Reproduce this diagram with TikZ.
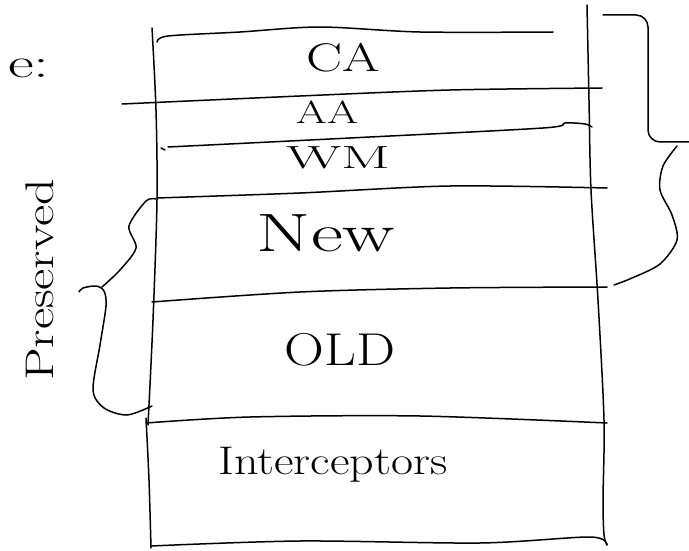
\documentclass[tikz,border=0pt]{standalone}
\usepackage{graphicx}
\tikzset{
  ink/.style={line width=1.5pt, line cap=round, line join=round},
  lbl/.style={inner sep=0pt, anchor=center}
}
\newcommand{\fs}[1]{\fontsize{#1}{#1}\selectfont}
\begin{document}
\begin{tikzpicture}[x=1pt,y=-1pt]
\useasboundingbox (0,0) rectangle (689,551);
% main verticals
\draw[ink] plot[smooth] coordinates {(152,28) (156,110) (157,200) (153,320) (148,425)};
\draw[ink] plot[smooth] coordinates {(146,418) (149,480) (151,548)};
\draw[ink] plot[smooth] coordinates {(587,5) (589,100) (591,190) (598,300) (604,420) (603,500) (604,535) (607,545)};
% horizontal lines
\draw[ink] plot[smooth] coordinates {(157,42) (168,36) (240,32) (320,27) (420,32) (553,32)};
\draw[ink] plot[smooth] coordinates {(122,104) (300,96) (450,90) (602,88)};
\draw[ink] (161,148) -- (165,150);
\draw[ink] plot[smooth] coordinates {(168,147) (350,138) (543,128) (565,123) (585,124) (592,127)};
\draw[ink] plot[smooth] coordinates {(157,198) (300,193) (450,186) (607,188)};
\draw[ink] plot[smooth] coordinates {(152,302) (300,292) (450,288) (607,287)};
\draw[ink] plot[smooth] coordinates {(146,423) (250,417) (420,416) (607,423)};
\draw[ink] plot[smooth] coordinates {(151,546) (300,541) (480,543) (590,537) (607,545)};
% right brace
\draw[ink, rounded corners=12pt] (603,15) -- (648,15) -- (648,142) -- (689,142);
\draw[ink] plot[smooth] coordinates {(677,146) (663,166) (660,190) (672,215) (677,240) (660,264) (632,278) (614,285)};
% left brace
\draw[ink] plot[smooth] coordinates {(156,199) (146,201) (129,226) (136,248) (120,270) (102,287)};
\draw[ink] plot[smooth] coordinates {(79,292) (83,288) (96,286) (104,291) (106,306) (100,345) (93,390) (104,408) (127,415) (152,406)};
% labels
\node[lbl] (e) at (29,68) {\fs{42}\scalebox{1.5}[1]{e:}};
\node[lbl] (ca) at (343,58) {\fs{40}\scalebox{1.35}[1]{CA}};
\node[lbl] (aa) at (327,112) {\fs{32}\scalebox{1.4}[1]{AA}};
\node[lbl] (wm) at (338,158) {\fs{32}\scalebox{1.8}[1]{WM}};
\node[lbl] (new) at (326,233) {\fs{54}\scalebox{1.45}[1]{New}};
\node[lbl] (old) at (340,350) {\fs{46}\scalebox{1.2}[1]{OLD}};
\node[lbl] (int) at (333,465) {\fs{40}\scalebox{1.2}[1]{Interceptors}};
\node[lbl, rotate=90] (pres) at (40,280) {\fs{40}\scalebox{1.3}[1]{Preserved}};
\end{tikzpicture}
\end{document}
